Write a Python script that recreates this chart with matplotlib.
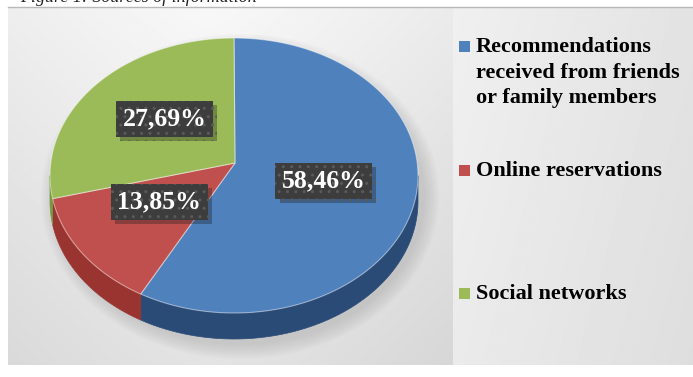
import numpy as np
import matplotlib
matplotlib.use('Agg')
from matplotlib import pyplot as plt
from matplotlib import patheffects as pe
from matplotlib.patches import Polygon, Rectangle, Ellipse

categories = ['Recommendations\nreceived from friends\nor family members',
              'Online reservations',
              'Social networks']
shares = [58.46, 13.85, 27.69]
top_colors = ['#4f81bd', '#c0504d', '#9bbb59']
side_colors = ['#2b4b77', '#9a3431', '#789a3e']
caption = 'Figure 1: Sources of information'

W, H = 693, 377
CX, CY = 234., 175.5      # centre of the top ellipse
RX, RY = 184., 137.5      # half axes of the top ellipse
APEX = (235., 163.)       # where the slice edges meet (perspective)
DEPTH = 26.

def rim(t, drop=0.):
    t = np.radians(t)
    return np.column_stack([CX + RX*np.cos(t), CY - RY*np.sin(t) + drop])

fig = plt.figure(figsize=(W/100, H/100), dpi=100)
ax = fig.add_axes([0, 0, 1, 1])
ax.set_xlim(0, W)
ax.set_ylim(H, 0)
ax.axis('off')

# background panel, light in the middle top, darker towards the edges
yy, xx = np.mgrid[0:1:200j, 0:1:300j]
left_bg = 0.97 - 0.10*np.abs(xx - 0.45)**1.2 - 0.08*yy
ax.imshow(left_bg, cmap='gray', vmin=0, vmax=1, extent=(8, 453, 365, 7), aspect='auto', zorder=0)
right_bg = 0.94 - 0.05*xx - 0.02*yy
ax.imshow(right_bg, cmap='gray', vmin=0, vmax=1, extent=(453, W, 365, 7), aspect='auto', zorder=0)
ax.plot([8, W], [7, 7], color='#b8b8b8', lw=1, zorder=1)

# soft shadow under the pie
for k in range(8):
    ax.add_patch(Ellipse((CX + 6, CY + DEPTH/2 + 8), 2*RX + 30 - 4*k, 2*RY + DEPTH + 24 - 4*k,
                         fc='#808080', ec='none', alpha=0.035, zorder=1))

# slice angles, clockwise from 12 o'clock
bounds = 90 - np.concatenate([[0], np.cumsum(shares)]) / sum(shares) * 360

# side walls (only the front half, angles between -180 and 0)
for i in range(len(shares)):
    t1, t2 = bounds[i], bounds[i+1]
    lo, hi = max(t2, -180), min(t1, 0)
    if hi <= lo:
        continue
    ts = np.linspace(hi, lo, 80)
    pts = np.vstack([rim(ts), rim(ts[::-1], DEPTH)])
    ax.add_patch(Polygon(pts, closed=True, fc=side_colors[i], ec=side_colors[i], lw=0.5, zorder=2))

# top faces
for i in range(len(shares)):
    ts = np.linspace(bounds[i], bounds[i+1], 200)
    pts = np.vstack([[APEX], rim(ts)])
    ax.add_patch(Polygon(pts, closed=True, fc=top_colors[i], ec=(1, 1, 1, 0.45), lw=0.8, zorder=3))

# data labels
for i, v in enumerate(shares):
    mid = np.radians((bounds[i] + bounds[i+1]) / 2)
    lx = APEX[0] + 0.5*RX*np.cos(mid)
    ly = APEX[1] - 0.5*RY*np.sin(mid)
    label = f'{v:.2f}'.replace('.', ',') + '%'
    t = ax.text(lx, ly, label, ha='center', va='center', fontsize=18.5, fontweight='bold',
                family='Liberation Serif', color='white',
                bbox=dict(boxstyle='square,pad=0.25', fc='#3d3d3d', ec='#5a5a5a', lw=0, hatch='..'),
                zorder=5)
    t.get_bbox_patch().set_path_effects([pe.SimplePatchShadow(offset=(3, -3), alpha=0.3), pe.Normal()])

# legend
legend_y = [53, 177, 300]
for name, col, y in zip(categories, top_colors, legend_y):
    ax.add_patch(Rectangle((459, y - 12), 11, 11, fc=col, ec='none', zorder=5))
    ax.text(476, y - 16, name, ha='left', va='top', fontsize=16, fontweight='bold',
            family='Liberation Serif', color='black', linespacing=1.38, zorder=5)

# caption cut off by the top edge
fig.text(20/W, 1 - 2/H, caption, ha='left', va='baseline', fontsize=13, style='italic',
         family='Liberation Serif', color='#222222')

fig.savefig('out.png', dpi=100)
